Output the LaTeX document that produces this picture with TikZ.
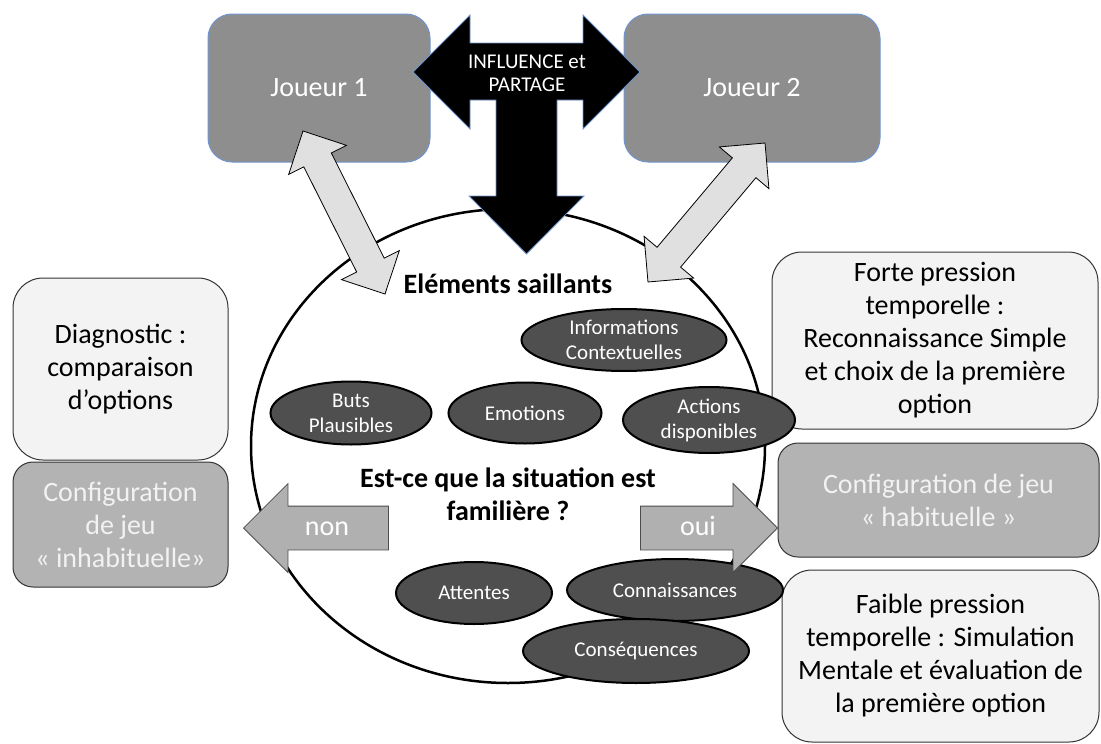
\documentclass[tikz,border=0pt]{standalone}
\usepackage{fontspec}
\setmainfont{Carlito}
\usetikzlibrary{shapes.geometric,shapes.arrows}
\definecolor{joueurgray}{HTML}{8E8E8E}
\definecolor{joueurline}{HTML}{7096CF}
\definecolor{notefill}{HTML}{F3F3F3}
\definecolor{configfill}{HTML}{B3B3B3}
\definecolor{bubblefill}{HTML}{4F4F4F}
\definecolor{linkfill}{HTML}{E0E0E0}
\definecolor{choicefill}{HTML}{B0B0B0}
\begin{document}
\begin{tikzpicture}[x=1pt, y=-1pt,
    joueur/.style={draw=joueurline, line width=1pt, fill=joueurgray, rounded corners=24pt,
      text=white, font=\fontsize{28}{33}\selectfont, minimum height=148pt},
    note/.style={draw=black!80, line width=1pt, fill=notefill, rounded corners=30pt,
      align=center, font=\fontsize{28}{33}\selectfont},
    config/.style={draw=black!80, line width=1pt, fill=configfill, rounded corners=20pt,
      align=center, text=white!95!black, font=\fontsize{28}{33}\selectfont},
    bubble/.style={ellipse, draw=black, line width=2pt, fill=bubblefill, text=white,
      align=center, inner sep=0pt, font=\fontsize{21}{25}\selectfont},
    link/.style={double arrow, draw=black, line width=0.8pt, fill=linkfill,
      inner xsep=0pt, inner ysep=15pt, text height=0pt, text depth=0pt,
      double arrow head extend=17pt},
    choice/.style={single arrow, draw=black!70, line width=0.8pt, fill=choicefill,
      text=white, font=\fontsize{28}{33}\selectfont, inner ysep=14.5pt,
      text height=14pt, text depth=0pt, single arrow head extend=22.5pt}
  ]
  \useasboundingbox (0,0) rectangle (1101,744);

  % the two ways out
  \node[note, minimum width=215pt, minimum height=182pt] (diag) at (120.5,369)
    {Diagnostic :\\comparaison\\d’options};
  \node[config, minimum width=215pt, minimum height=125pt] (inhab) at (120.5,524.5)
    {Configuration\\de jeu\\«~inhabituelle»};
  \node[note, minimum width=326pt, minimum height=177pt] (forte) at (935,340.5)
    {Forte pression\\temporelle :\\Reconnaissance Simple\\et choix de la première\\option};
  \node[config, minimum width=321pt, minimum height=114pt] (habit) at (938.5,500)
    {Configuration de jeu\\« habituelle »};
  \node[note, minimum width=317pt, minimum height=172pt] (faible) at (940.5,656)
    {Faible pression\\temporelle : Simulation\\Mentale et évaluation de\\la première option};

  % players
  \node[joueur, minimum width=222pt] (j1) at (319,88) {Joueur 1};
  \node[joueur, minimum width=256pt] (j2) at (752,88) {Joueur 2};

  % the situation
  \node[ellipse, draw, line width=2.5pt, fill=white, inner sep=0pt,
    minimum width=514pt, minimum height=474pt] (scene) at (508,446) {};
  \node[font=\fontsize{28}{33}\selectfont\bfseries] (saillants) at (508,284) {Eléments saillants};
  \node[font=\fontsize{28}{33}\selectfont\bfseries, align=center] (question) at (508,494)
    {Est-ce que la situation est\\familière ?};

  \node[bubble, minimum width=205pt, minimum height=62pt] (info) at (624,340) {Informations\\Contextuelles};
  \node[bubble, minimum width=161pt, minimum height=63pt] (buts) at (351,413) {Buts\\Plausibles};
  \node[bubble, minimum width=153pt, minimum height=61pt] (emo) at (525,413) {Emotions};
  \node[bubble, minimum width=172pt, minimum height=66pt] (actions) at (709,420) {Actions\\disponibles};
  \node[bubble, minimum width=156pt, minimum height=62pt] (attentes) at (474,593) {Attentes};
  \node[bubble, minimum width=216pt, minimum height=62pt] (connais) at (675,590) {Connaissances};
  \node[bubble, minimum width=226pt, minimum height=64pt] (conseq) at (636,651) {Conséquences};

  % influence between the players
  \draw[draw=joueurline, line width=0.8pt, fill=black]
    (413,72) -- (470,15) -- (470,43) -- (583,43) -- (583,15) -- (640,72)
    -- (583,129) -- (583,100) -- (557,100) -- (557,196) -- (584,196)
    -- (526.5,254) -- (469,196) -- (496,196) -- (496,100) -- (470,100)
    -- (470,129) -- cycle;
  \node[text=white, align=center, font=\fontsize{21}{23}\selectfont] (share) at (527,73)
    {INFLUENCE et\\PARTAGE};

  \node[link, minimum height=182.5pt, rotate=116.7] (link1) at (344,212.5) {};
  \node[link, minimum height=181.7pt, rotate=49.9] (link2) at (706.5,212.5) {};

  \node[choice, shape border rotate=180, minimum height=145pt, anchor=tip] (non) at (243,528) {non};
  \node[choice, minimum height=137pt, anchor=tip] (oui) at (778,528) {oui};
\end{tikzpicture}
\end{document}
